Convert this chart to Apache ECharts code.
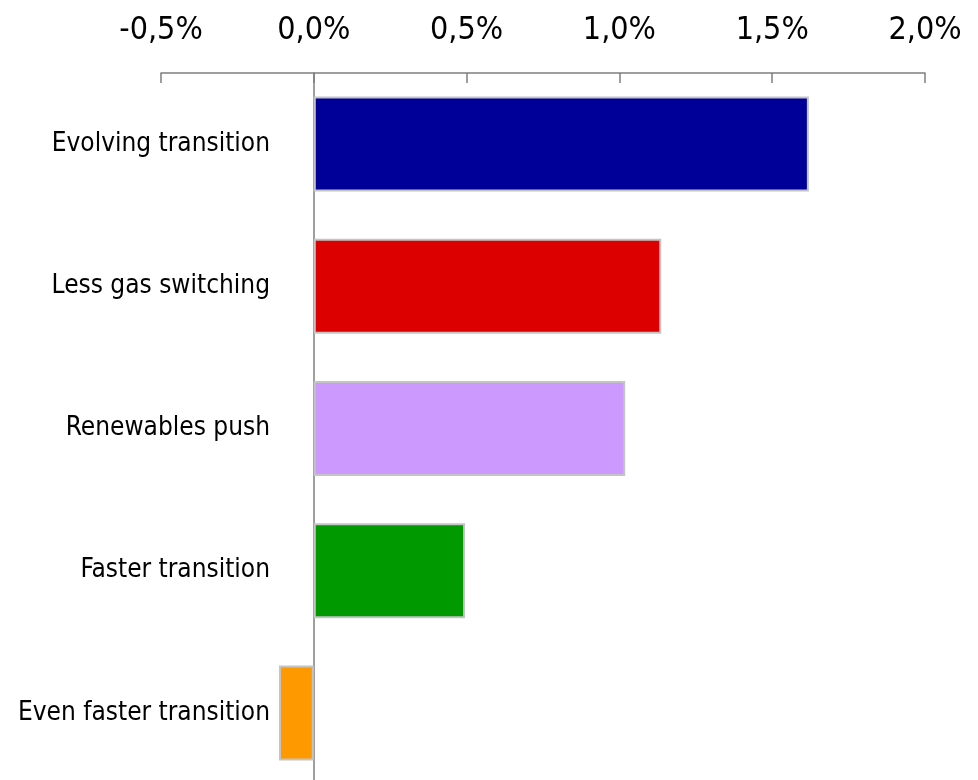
<!DOCTYPE html>
<html><head><meta charset="utf-8">
<script src="https://cdn.jsdelivr.net/npm/echarts@6/dist/echarts.min.js"></script>
<style>
html,body{margin:0;padding:0;background:#fff;overflow:hidden}
#wrap{position:absolute;left:20px;top:0;width:958px;height:780px;overflow:hidden}
#c{width:958px;height:780px}
</style></head>
<body><div id="wrap"><div id="c"></div></div>
<script>
const categories = ["Evolving transition","Less gas switching","Renewables push","Faster transition","Even faster transition"];
const values = [1.62, 1.137, 1.019, 0.495, -0.114];
const barColors = ["#000099","#DD0000","#CC99FF","#009900","#FF9900"];
const tickMin = -0.5, tickMax = 2.0, tickStep = 0.5;

const FONT = "'Liberation Sans Narrow','DejaVu Sans Condensed','Roboto Condensed',sans-serif";
const chart = echarts.init(document.getElementById('c'));
chart.setOption({
  animation:false,
  backgroundColor:'#fff',
  grid:{left:141,right:53,top:73,height:711,containLabel:false,outerBoundsMode:'none'},
  xAxis:{
    type:'value', position:'top', min:tickMin, max:tickMax, interval:tickStep,
    splitLine:{show:false},
    axisLine:{show:true,lineStyle:{color:'#7f7f7f',width:1.5}},
    axisTick:{show:true,inside:true,length:10,lineStyle:{color:'#7f7f7f',width:1.5}},
    axisLabel:{margin:26,color:'#000',fontFamily:FONT,fontSize:32,
      formatter:v=>v.toFixed(1).replace('.',',')+'%'}
  },
  yAxis:{
    type:'category', data:categories, inverse:true,
    axisLine:{show:true,onZero:true,lineStyle:{color:'#7f7f7f',width:1.5}},
    axisTick:{show:false},
    axisLabel:{margin:-109,color:'#000',fontFamily:FONT,fontSize:26}
  },
  series:[{
    type:'bar', barWidth:95,
    data: values.map((v,i)=>({value:v,itemStyle:{color:barColors[i]}})),
    itemStyle:{borderColor:'#c4c4c4',borderWidth:2}
  }]
});
</script></body></html>
